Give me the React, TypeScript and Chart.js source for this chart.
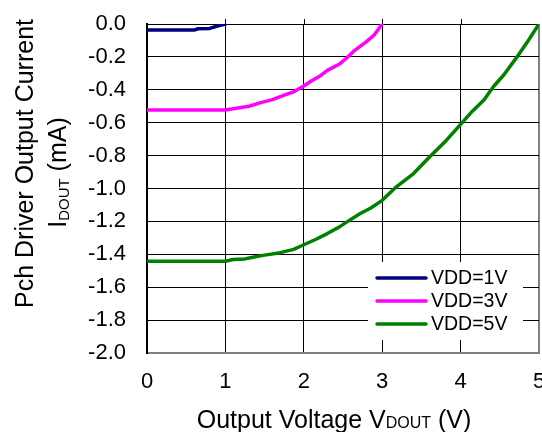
import React, { useEffect, useRef } from "react";
import { Chart, registerables } from "chart.js";

Chart.register(...registerables);

const seriesLabels = ["VDD=1V", "VDD=3V", "VDD=5V"];
const seriesColors = ["#000080", "#FF00FF", "#008000"];

const vdd1X = [0, 0.6, 0.65, 0.8, 0.9, 1.0];
const vdd1Y = [-0.037, -0.037, -0.029, -0.027, -0.012, 0];

const vdd3X = [0, 1.0, 1.1, 1.2, 1.3, 1.45, 1.6, 1.75, 1.87, 2.0, 2.1, 2.2, 2.3, 2.45, 2.55, 2.65, 2.8, 2.9, 3.0];
const vdd3Y = [-0.523, -0.523, -0.515, -0.508, -0.5, -0.478, -0.46, -0.433, -0.412, -0.377, -0.345, -0.318, -0.282, -0.245, -0.205, -0.16, -0.107, -0.065, 0];

const vdd5X = [0, 1.0, 1.1, 1.25, 1.35, 1.5, 1.7, 1.87, 2.0, 2.15, 2.3, 2.45, 2.55, 2.72, 2.85, 3.0, 3.18, 3.4, 3.6, 3.82, 4.0, 4.15, 4.3, 4.42, 4.55, 4.72, 4.85, 5.0];
const vdd5Y = [-1.442, -1.442, -1.432, -1.428, -1.418, -1.405, -1.39, -1.37, -1.342, -1.31, -1.274, -1.235, -1.203, -1.152, -1.12, -1.072, -0.99, -0.909, -0.81, -0.706, -0.61, -0.53, -0.46, -0.38, -0.31, -0.2, -0.11, 0];

const xMin = 0, xMax = 5, xStep = 1;
const yMin = -2, yMax = 0, yStep = 0.2;

const yTitleLine1 = "Pch Driver Output Current";
const yTitleMain = "I";
const yTitleSub = "DOUT";
const yTitleRest = " (mA)";
const xTitleMain = "Output Voltage V";
const xTitleSub = "DOUT";
const xTitleRest = " (V)";

const FONT = "'Liberation Sans', Arial, sans-serif";

const toPts = (xs: number[], ys: number[]) => xs.map((x, i) => ({ x, y: ys[i] }));

const titlesPlugin = {
  id: "titles",
  afterDraw(chart: any) {
    const ctx = chart.ctx;
    const area = chart.chartArea;
    ctx.save();
    ctx.fillStyle = "#000";
    const cy1 = (area.top + area.bottom) / 2 - 25;
    ctx.save();
    ctx.translate(33, cy1);
    ctx.rotate(-Math.PI / 2);
    ctx.font = `25px ${FONT}`;
    ctx.textAlign = "center";
    ctx.textBaseline = "alphabetic";
    ctx.fillText(yTitleLine1, 0, 0);
    ctx.restore();

    ctx.save();
    ctx.translate(66, cy1 + 9);
    ctx.rotate(-Math.PI / 2);
    ctx.textBaseline = "alphabetic";
    ctx.textAlign = "left";
    const mainF = `25px ${FONT}`;
    const subF = `15px ${FONT}`;
    ctx.font = mainF;
    const w1 = ctx.measureText(yTitleMain).width;
    const w3 = ctx.measureText(yTitleRest).width;
    ctx.font = subF;
    const w2 = ctx.measureText(yTitleSub).width;
    let sx = -(w1 + w2 + w3) / 2;
    ctx.font = mainF;
    ctx.fillText(yTitleMain, sx, 0);
    sx += w1;
    ctx.font = subF;
    ctx.fillText(yTitleSub, sx, 3);
    sx += w2;
    ctx.font = mainF;
    ctx.fillText(yTitleRest, sx, 0);
    ctx.restore();

    ctx.save();
    ctx.textBaseline = "alphabetic";
    ctx.textAlign = "left";
    const xF = `25px ${FONT}`;
    const xSubF = `16px ${FONT}`;
    ctx.font = xF;
    const a = ctx.measureText(xTitleMain).width;
    const c = ctx.measureText(xTitleRest).width;
    ctx.font = xSubF;
    const b = ctx.measureText(xTitleSub).width;
    let px = 334 - (a + b + c) / 2;
    const by = 428;
    ctx.font = xF;
    ctx.fillText(xTitleMain, px, by);
    px += a;
    ctx.font = xSubF;
    ctx.fillText(xTitleSub, px, by);
    px += b;
    ctx.font = xF;
    ctx.fillText(xTitleRest, px, by);
    ctx.restore();

    const xs = chart.scales.x;
    ctx.strokeStyle = "#000";
    ctx.lineWidth = 1;
    for (let v = xMin + xStep; v < xMax; v += xStep) {
      const p = Math.round(xs.getPixelForValue(v)) + 0.5;
      ctx.beginPath();
      ctx.moveTo(p, area.top - 5);
      ctx.lineTo(p, area.top);
      ctx.stroke();
    }
    ctx.restore();
  },
};

const legendPlugin = {
  id: "innerLegend",
  afterDatasetsDraw(chart: any) {
    const ctx = chart.ctx;
    const area = chart.chartArea;
    const right = area.right - 16;
    const bottom = area.bottom - 13;
    const w = 155;
    const h = 78;
    const left = right - w;
    const top = bottom - h;
    ctx.save();
    ctx.fillStyle = "#fff";
    ctx.fillRect(left, top, w, h);
    const rowH = 23;
    ctx.font = `19.5px ${FONT}`;
    ctx.textBaseline = "middle";
    ctx.textAlign = "left";
    chart.data.datasets.forEach((ds: any, i: number) => {
      const y = top + 16 + i * rowH;
      ctx.strokeStyle = ds.borderColor;
      ctx.lineWidth = 3.5;
      ctx.lineCap = "round";
      ctx.beginPath();
      ctx.moveTo(left + 9, y);
      ctx.lineTo(left + 58, y);
      ctx.stroke();
      ctx.fillStyle = "#000";
      ctx.fillText(ds.label, left + 63, y + 1);
    });
    ctx.restore();
  },
};

export default function App() {
  const ref = useRef<HTMLCanvasElement | null>(null);
  useEffect(() => {
    if (!ref.current) return;
    const xsData = [vdd1X, vdd3X, vdd5X];
    const ysData = [vdd1Y, vdd3Y, vdd5Y];
    const chart = new Chart(ref.current, {
      type: "scatter",
      data: {
        datasets: seriesLabels.map((label, i) => ({
          label,
          data: toPts(xsData[i], ysData[i]),
          showLine: true,
          borderColor: seriesColors[i],
          backgroundColor: seriesColors[i],
          borderWidth: 3.5,
          pointRadius: 0,
          tension: 0,
          borderCapStyle: "round",
          borderJoinStyle: "round",
        })),
      },
      options: {
        responsive: false,
        animation: false,
        layout: { padding: { left: 0, right: 3, top: 24, bottom: 0 } },
        plugins: { legend: { display: false }, tooltip: { enabled: false } },
        scales: {
          x: {
            type: "linear",
            min: xMin,
            max: xMax,
            ticks: {
              stepSize: xStep,
              color: "#000",
              font: { family: FONT, size: 22 },
              padding: 16,
              maxRotation: 0,
            },
            grid: {
              drawTicks: false,
              color: (c: any) => (c.tick && c.tick.value === xMax ? "#808080" : "#000"),
              lineWidth: (c: any) => (c.tick && c.tick.value === xMax ? 2 : 1),
            },
            border: { color: "#808080", width: 2 },
            afterFit: (s: any) => { s.height = 79; s.paddingLeft = 0; s.paddingRight = 0; },
          },
          y: {
            type: "linear",
            min: yMin,
            max: yMax,
            ticks: {
              stepSize: yStep,
              color: "#000",
              font: { family: FONT, size: 22 },
              padding: 21,
              callback: (v: any) => Number(v).toFixed(1),
            },
            grid: {
              drawTicks: false,
              color: "#000",
              lineWidth: 1,
            },
            border: { color: "#000", width: 2 },
            afterFit: (s: any) => { s.width = 147; s.paddingTop = 0; s.paddingBottom = 0; },
          },
        },
      },
      plugins: [legendPlugin, titlesPlugin],
    });
    return () => chart.destroy();
  }, []);
  return (
    <div style={{ position: "absolute", left: 0, top: 0, width: 542, height: 432, background: "#fff" }}>
      <canvas ref={ref} width={542} height={432} style={{ display: "block" }} />
    </div>
  );
}
